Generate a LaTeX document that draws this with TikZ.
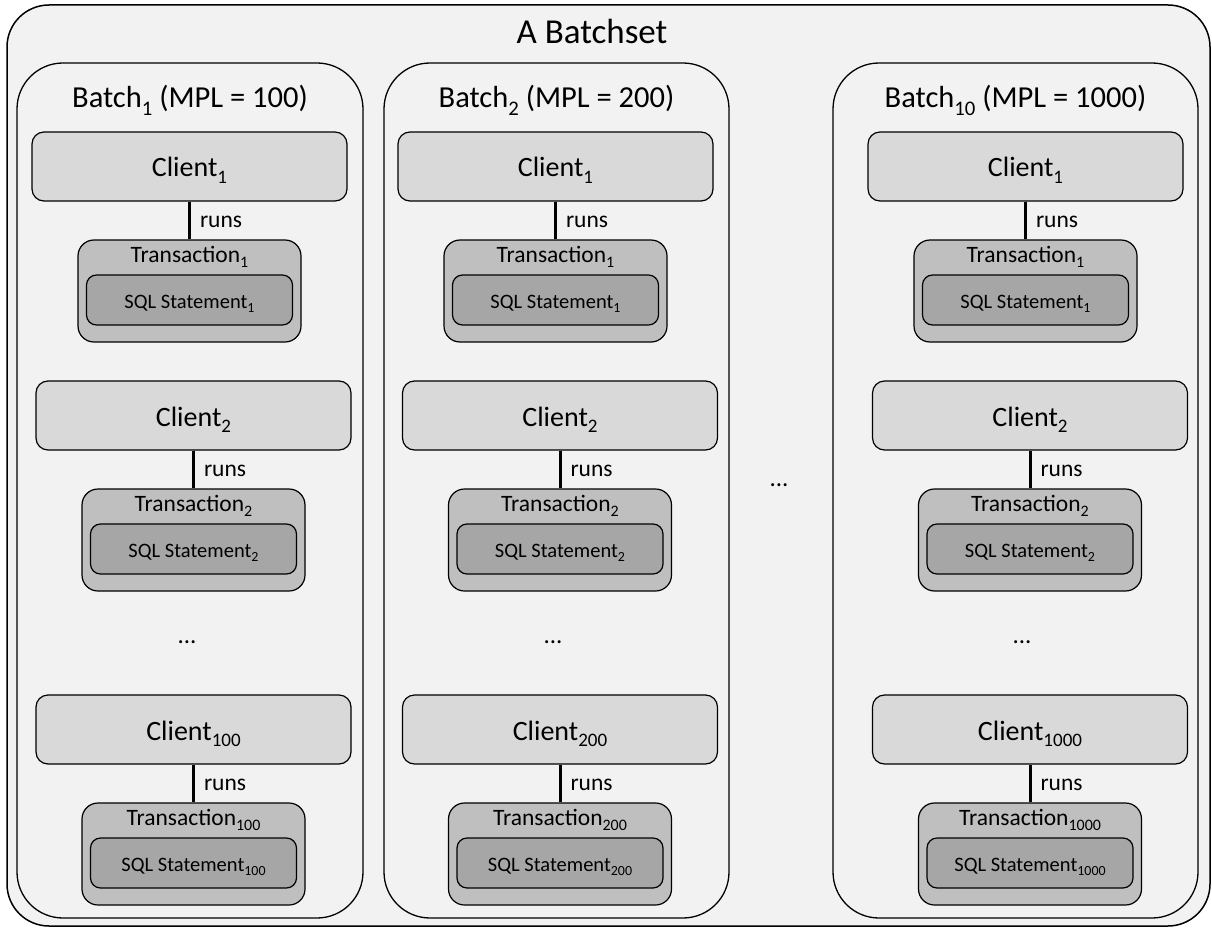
\documentclass[tikz,border=0pt]{standalone}
\usepackage{fontspec}
\setmainfont{Carlito}
\definecolor{panel}{HTML}{F2F2F2}
\definecolor{clientgray}{HTML}{D9D9D9}
\definecolor{txngray}{HTML}{BFBFBF}
\definecolor{sqlgray}{HTML}{A6A6A6}
% subscript in the text font, a bit smaller and dropped below the baseline
\makeatletter
\newcommand{\idx}[1]{\pgfmathsetmacro\idxsize{0.68*\f@size}%
  \raisebox{-0.24em}{\fontsize{\idxsize}{\idxsize}\selectfont #1}}
\makeatother
\tikzset{
  outerbox/.style={draw=black, line width=1.5pt, fill=panel, rounded corners=42pt, inner sep=0pt},
  batchbox/.style={draw=black, line width=1.3pt, fill=panel, rounded corners=46pt, inner sep=0pt, minimum height=855pt},
  bigtitle/.style={anchor=base, font=\fontsize{35}{40}\selectfont, inner sep=0pt},
  batchtitle/.style={anchor=base, font=\fontsize{30.5}{34}\selectfont, inner sep=0pt},
  client/.style={draw=black, line width=1.2pt, fill=clientgray, rounded corners=12pt,
    minimum width=315pt, minimum height=69pt, inner sep=0pt,
    text height=21pt, text depth=0pt, font=\fontsize{28}{32}\selectfont},
  txn/.style={draw=black, line width=1.2pt, fill=txngray, rounded corners=16pt,
    minimum width=223pt, minimum height=102pt, inner sep=0pt},
  txntitle/.style={anchor=base, inner sep=0pt, font=\fontsize{23.5}{27}\selectfont},
  sql/.style={draw=black, line width=1.2pt, fill=sqlgray, rounded corners=10pt,
    minimum width=206pt, minimum height=50pt, inner sep=0pt,
    text height=16pt, text depth=0pt, font=\fontsize{20.5}{24}\selectfont},
  runsline/.style={line width=3pt},
  runslabel/.style={anchor=base west, inner sep=0pt, xshift=9pt, yshift=-6.5pt,
    font=\fontsize{23.5}{27}\selectfont},
  dots/.style={anchor=base, inner sep=0pt, font=\fontsize{25}{30}\selectfont},
}
% one client with its transaction and statement
% #1 batch, #2 row, #3 centre x, #4 top y of the client, #5 index
\newcommand{\clientstack}[5]{%
  \node[client] (cl-#1-#2) at (#3, #4+34.5) {Client\idx{#5}};
  \node[txn] (tx-#1-#2) at (#3, #4+159) {};
  \node[txntitle] (tt-#1-#2) at (#3, #4+130) {Transaction\idx{#5}};
  \node[sql] (sq-#1-#2) at (#3, #4+168) {SQL Statement\idx{#5}};
  \draw[runsline] (cl-#1-#2.south) -- node[runslabel] (rl-#1-#2) {runs} (tx-#1-#2.north);
}
\begin{document}
\begin{tikzpicture}[x=1pt,y=-1pt]
\useasboundingbox (0,0) rectangle (1212,928);

% the batchset
\node[outerbox, minimum width=1203pt, minimum height=921pt] (batchset) at (608.5,465.5) {};
\node[bigtitle] (settitle) at (592,44) {A Batchset};

% batches
\node[batchbox, minimum width=346pt] (b1) at (190,490.5) {};
\node[batchbox, minimum width=345pt] (b2) at (556.5,490.5) {};
\node[batchbox, minimum width=365pt] (b10) at (1015.5,490.5) {};

\node[batchtitle] (bt1) at (190,108) {Batch\idx{1} (MPL = 100)};
\node[batchtitle] (bt2) at (556.5,108) {Batch\idx{2} (MPL = 200)};
\node[batchtitle] (bt10) at (1015.5,108) {Batch\idx{10} (MPL = 1000)};

\node[dots] (gap) at (779,486) {...};

% batch 1
\clientstack{1}{1}{189.5}{132}{1}
\clientstack{1}{2}{193.5}{381}{2}
\node[dots] (d1) at (187,643) {...};
\clientstack{1}{3}{193.5}{695}{100}

% batch 2
\clientstack{2}{1}{555.5}{132}{1}
\clientstack{2}{2}{560}{381}{2}
\node[dots] (d2) at (553,643) {...};
\clientstack{2}{3}{560}{695}{200}

% batch 10
\clientstack{10}{1}{1025.5}{132}{1}
\clientstack{10}{2}{1030}{381}{2}
\node[dots] (d10) at (1022,643) {...};
\clientstack{10}{3}{1030}{695}{1000}
\end{tikzpicture}
\end{document}
